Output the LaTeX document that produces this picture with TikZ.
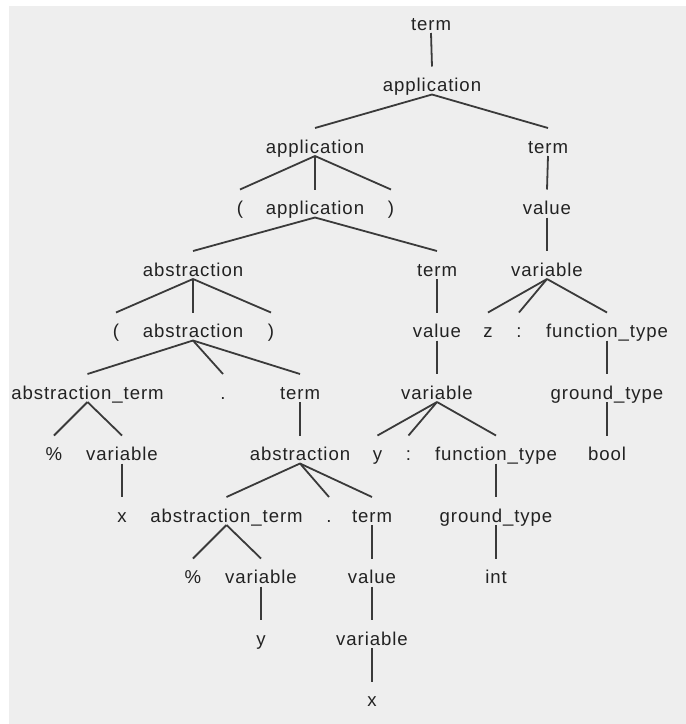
\documentclass[tikz,border=0pt]{standalone}
\usepackage{fontspec}
\setmainfont{Liberation Sans}[LetterSpace=5]
\begin{document}
\begin{tikzpicture}[x=1pt,y=-1pt,
  lbl/.style={anchor=base,inner sep=0pt,text=txtc,font=\fontsize{18.6}{20}\selectfont},
  edge/.style={draw=linec,line width=1.8pt}]
\definecolor{bgc}{HTML}{EEEEEE}
\definecolor{txtc}{HTML}{222222}
\definecolor{linec}{HTML}{3A3A3A}
\useasboundingbox (0,0) rectangle (686,724);
\fill[white] (0,0) rectangle (686,724);
\fill[bgc] (9,6) rectangle (686,724);
\newcommand\lev[1]{30+61.5*#1}
% level 0
\node[lbl] (t0) at (431,{\lev{0}}) {term};
% level 1
\node[lbl] (a1) at (432,{\lev{1}}) {application};
% level 2
\node[lbl] (a2) at (315,{\lev{2}}) {application};
\node[lbl] (t2) at (548,{\lev{2}}) {term};
% level 3
\node[lbl] (lp3) at (240,{\lev{3}}) {(};
\node[lbl] (a3) at (315,{\lev{3}}) {application};
\node[lbl] (rp3) at (391,{\lev{3}}) {)};
\node[lbl] (v3) at (547,{\lev{3}}) {value};
% level 4
\node[lbl] (ab4) at (193,{\lev{4}}) {abstraction};
\node[lbl] (t4) at (437,{\lev{4}}) {term};
\node[lbl] (var4) at (547,{\lev{4}}) {variable};
% level 5
\node[lbl] (lp5) at (116,{\lev{5}}) {(};
\node[lbl] (ab5) at (193,{\lev{5}}) {abstraction};
\node[lbl] (rp5) at (271,{\lev{5}}) {)};
\node[lbl] (v5) at (437,{\lev{5}}) {value};
\node[lbl] (z5) at (488,{\lev{5}}) {z};
\node[lbl] (c5) at (519,{\lev{5}}) {:};
\node[lbl] (ft5) at (607,{\lev{5}}) {function\_type};
% level 6
\node[lbl] (at6) at (87.5,{\lev{6}}) {abstraction\_term};
\node[lbl] (d6) at (223,{\lev{6}}) {.};
\node[lbl] (t6) at (300,{\lev{6}}) {term};
\node[lbl] (var6) at (437,{\lev{6}}) {variable};
\node[lbl] (gt6) at (607,{\lev{6}}) {ground\_type};
% level 7
\node[lbl] (pc7) at (54,{\lev{7}}) {\%};
\node[lbl] (var7) at (122,{\lev{7}}) {variable};
\node[lbl] (ab7) at (300,{\lev{7}}) {abstraction};
\node[lbl] (y7) at (377.5,{\lev{7}}) {y};
\node[lbl] (c7) at (408.5,{\lev{7}}) {:};
\node[lbl] (ft7) at (496,{\lev{7}}) {function\_type};
\node[lbl] (b7) at (607,{\lev{7}}) {bool};
% level 8
\node[lbl] (x8) at (122,{\lev{8}}) {x};
\node[lbl] (at8) at (226.5,{\lev{8}}) {abstraction\_term};
\node[lbl] (d8) at (329,{\lev{8}}) {.};
\node[lbl] (t8) at (372,{\lev{8}}) {term};
\node[lbl] (gt8) at (496,{\lev{8}}) {ground\_type};
% level 9
\node[lbl] (pc9) at (193,{\lev{9}}) {\%};
\node[lbl] (var9) at (261,{\lev{9}}) {variable};
\node[lbl] (v9) at (372,{\lev{9}}) {value};
\node[lbl] (i9) at (496,{\lev{9}}) {int};
% level 10
\node[lbl] (y10) at (261,{\lev{10}}) {y};
\node[lbl] (var10) at (372,{\lev{10}}) {variable};
% level 11
\node[lbl] (x11) at (372,{\lev{11}}) {x};
% edges
\foreach \p/\c in {t0/a1,a1/a2,a1/t2,a2/lp3,a2/a3,a2/rp3,t2/v3,a3/ab4,a3/t4,v3/var4,
  ab4/lp5,ab4/ab5,ab4/rp5,t4/v5,var4/z5,var4/c5,var4/ft5,ab5/at6,ab5/d6,ab5/t6,v5/var6,ft5/gt6,
  at6/pc7,at6/var7,t6/ab7,var6/y7,var6/c7,var6/ft7,gt6/b7,var7/x8,ab7/at8,ab7/d8,ab7/t8,ft7/gt8,
  at8/pc9,at8/var9,t8/v9,gt8/i9,var9/y10,v9/var10,var10/x11}
  \draw[edge] ([yshift=-3pt]\p.base) -- ([yshift=25pt]\c.base);
\end{tikzpicture}
\end{document}
